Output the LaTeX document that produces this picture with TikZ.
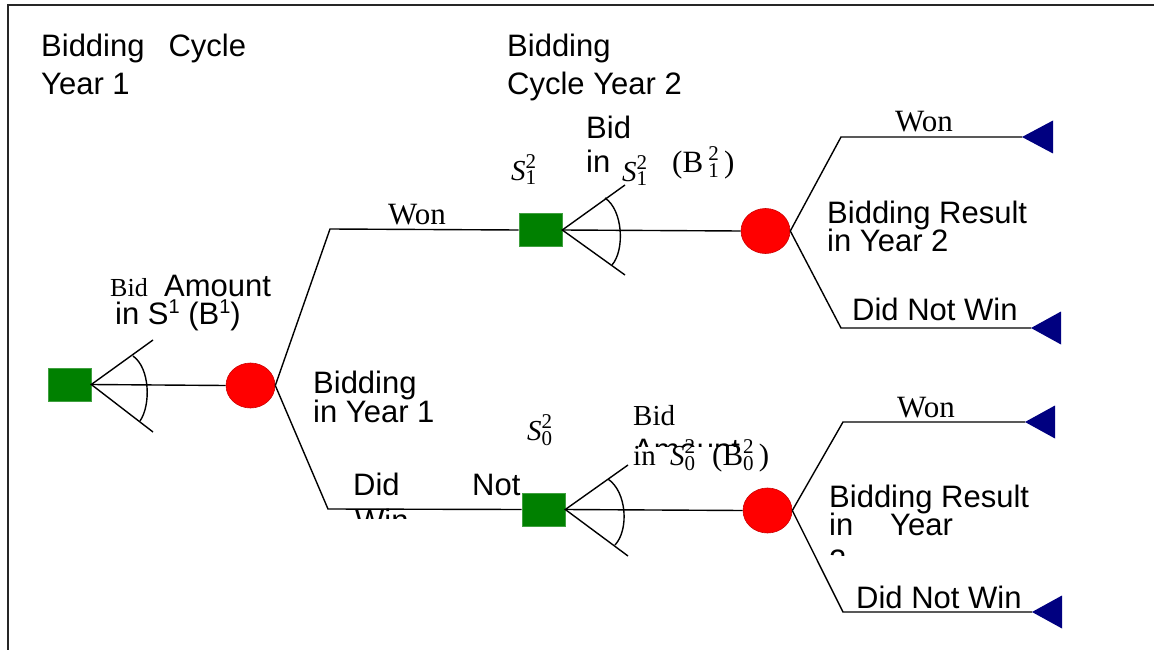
\documentclass[tikz,border=0pt]{standalone}
\usepackage{fontspec}
\setmainfont{Liberation Sans}
\newfontfamily\rmtimes{Liberation Serif}
\usetikzlibrary{shapes.geometric}

\definecolor{dgreen}{RGB}{0,128,0}
\definecolor{navyb}{RGB}{0,0,128}

% stacked superscript / subscript after a symbol
\newcommand\supsub[2]{\rlap{\raisebox{12pt}{\fontsize{21}{21}\selectfont\upshape #1}}\raisebox{-5pt}{\fontsize{21}{21}\selectfont\upshape #2}}
\newcommand\supone[1]{\raisebox{11pt}{\fontsize{20}{20}\selectfont #1}}

\begin{document}
\begin{tikzpicture}[x=1pt,y=-1pt,
  lbl/.style={anchor=base west,inner sep=0pt,font=\fontsize{31}{34}\selectfont},
  tlbl/.style={anchor=base west,inner sep=0pt,font=\rmtimes\fontsize{31}{34}\selectfont},
  slbl/.style={anchor=base west,inner sep=0pt,font=\rmtimes\fontsize{29}{30}\selectfont},
  decision/.style={rectangle,fill=dgreen,draw=dgreen!75!white,line width=0.6pt,
    minimum width=43pt,minimum height=33pt,inner sep=0pt},
  chance/.style={ellipse,fill=red,draw=red!80!black,line width=0.6pt,
    minimum width=49pt,minimum height=45pt,inner sep=0pt},
  branch/.style={line width=1.4pt,line join=miter},
  terminal/.style={fill=navyb}
]
\useasboundingbox (0,0) rectangle (1154,650);

% frame
\draw[line width=2.2pt,black!85] (8,650) -- (8,5) -- (1154,5);

% headings
\node[lbl] (h1a) at (41,57) {Bidding\hspace{24pt}Cycle};
\node[lbl] (h1b) at (41,95) {Year 1};
\node[lbl] (h2a) at (507,57) {Bidding};
\node[lbl] (h2b) at (507,95) {Cycle Year 2};

% ---------- year 1 ----------
\node[decision] (sq1) at (69.5,384.5) {};
\node[chance] (ch1) at (250.5,385.5) {};
\coordinate (f1a) at (153,340);
\coordinate (f1b) at (153,432);
\draw[branch] (f1a) -- (sq1.east) -- (f1b);
\draw[branch] (sq1.east) -- (ch1.west);
\draw[line width=1.4pt] (133,356) .. controls (150,368) and (151,405) .. (140,421);

\node[anchor=base west,inner sep=0pt,font=\rmtimes\fontsize{26}{28}\selectfont] (bid1) at (110,296) {Bid};
\node[lbl] (amt1) at (164,296) {Amount};
\node[lbl] (in1) at (115,324) {in S\supone{1} (B\supone{1})};

\node[lbl] (res1a) at (313,393) {Bidding};
\node[lbl] (res1b) at (313,422) {in Year 1};

\coordinate (c1u) at (330,229);
\coordinate (c1d) at (328,509);

% ---------- year 2, after winning ----------
\node[decision] (sq2) at (540.5,230) {};
\node[chance] (ch2) at (765.5,231) {};
\draw[branch] (ch1.east) -- (c1u) -- (sq2.west);
\node[tlbl] (won1) at (388,224) {Won};

\coordinate (f2a) at (625,185);
\coordinate (f2b) at (625,275);
\draw[branch] (f2a) -- (sq2.east) -- (f2b);
\draw[branch] (sq2.east) -- (ch2.west);
\draw[line width=1.4pt] (605,198) .. controls (623,210) and (625,250) .. (612,265);

\node[slbl] (s12) at (511,180) {\textit{S}\supsub{2}{1}};
\node[lbl] (bid2) at (586,139) {Bid};
\node[lbl] (in2) at (586,172) {in};
\node[slbl] (s12b) at (622,181) {\textit{S}\supsub{2}{1}};
\node[anchor=base west,inner sep=0pt,font=\rmtimes\fontsize{31}{32}\selectfont] (b12) at (672,172) {(B\,\supsub{2}{1}\,)};

\coordinate (c2u) at (841,137);
\coordinate (t2u) at (1022,137);
\coordinate (c2d) at (841,328);
\coordinate (t2d) at (1031,328);
\draw[branch] (ch2.east) -- (c2u) -- (t2u);
\draw[branch] (ch2.east) -- (c2d) -- (t2d);
\fill[terminal] (t2u) -- ++(31,-16.5) -- ++(0,33) -- cycle;
\fill[terminal] (t2d) -- ++(30,-16.5) -- ++(0,33) -- cycle;

\node[tlbl] (won2) at (895,132) {Won};
\node[lbl] (res2a) at (827,223) {Bidding Result};
\node[lbl] (res2b) at (827,251) {in Year 2};
\node[lbl] (lost2) at (852,320) {Did Not Win};

% ---------- year 2, after losing ----------
\node[decision] (sq3) at (543.5,509.5) {};
\node[chance] (ch3) at (767.5,510.5) {};
\draw[branch] (ch1.east) -- (c1d) -- (sq3.west);
\node[lbl] (lost1a) at (353,495) {Did};
\node[lbl] (lost1b) at (472,495) {Not};
\begin{scope}
  \clip (340,500) rectangle (420,518);
  \node[lbl] (lost1c) at (355,531) {Win};
\end{scope}

\coordinate (f3a) at (628,465);
\coordinate (f3b) at (628,556);
\draw[branch] (f3a) -- (sq3.east) -- (f3b);
\draw[branch] (sq3.east) -- (ch3.west);
\draw[line width=1.4pt] (608,479) .. controls (627,492) and (629,530) .. (615,545);

\node[slbl] (s02) at (527,440) {\textit{S}\supsub{2}{0}};
\node[anchor=base west,inner sep=0pt,font=\rmtimes\fontsize{29}{30}\selectfont] (bid3) at (633,425) {Bid};
\begin{scope}
  \clip (620,430) rectangle (760,446);
  \node[lbl] (amt3) at (633,460) {Amount};
\end{scope}
\node[anchor=base west,inner sep=0pt,font=\rmtimes\fontsize{29}{30}\selectfont] (in3) at (633,465) {in};
\node[slbl] (s02b) at (670,465) {\textit{S}\supsub{2}{0}};
\node[anchor=base west,inner sep=0pt,font=\rmtimes\fontsize{31}{32}\selectfont] (b02) at (712,465) {(B\supsub{2}{0}\,)};

\coordinate (c3u) at (843,422);
\coordinate (t3u) at (1025,422);
\coordinate (c3d) at (843,612);
\coordinate (t3d) at (1032,612);
\draw[branch] (ch3.east) -- (c3u) -- (t3u);
\draw[branch] (ch3.east) -- (c3d) -- (t3d);
\fill[terminal] (t3u) -- ++(30,-16.5) -- ++(0,33) -- cycle;
\fill[terminal] (t3d) -- ++(30,-16.5) -- ++(0,33) -- cycle;

\node[tlbl] (won3) at (897,417) {Won};
\node[lbl] (res3a) at (829,507) {Bidding Result};
\node[lbl] (res3b) at (829,535) {in};
\node[lbl] (res3c) at (890,535) {Year};
\begin{scope}
  \clip (820,540) rectangle (870,555);
  \node[lbl] (res3d) at (829,571) {2};
\end{scope}
\node[lbl] (lost3) at (856,608) {Did Not Win};
\end{tikzpicture}
\end{document}
